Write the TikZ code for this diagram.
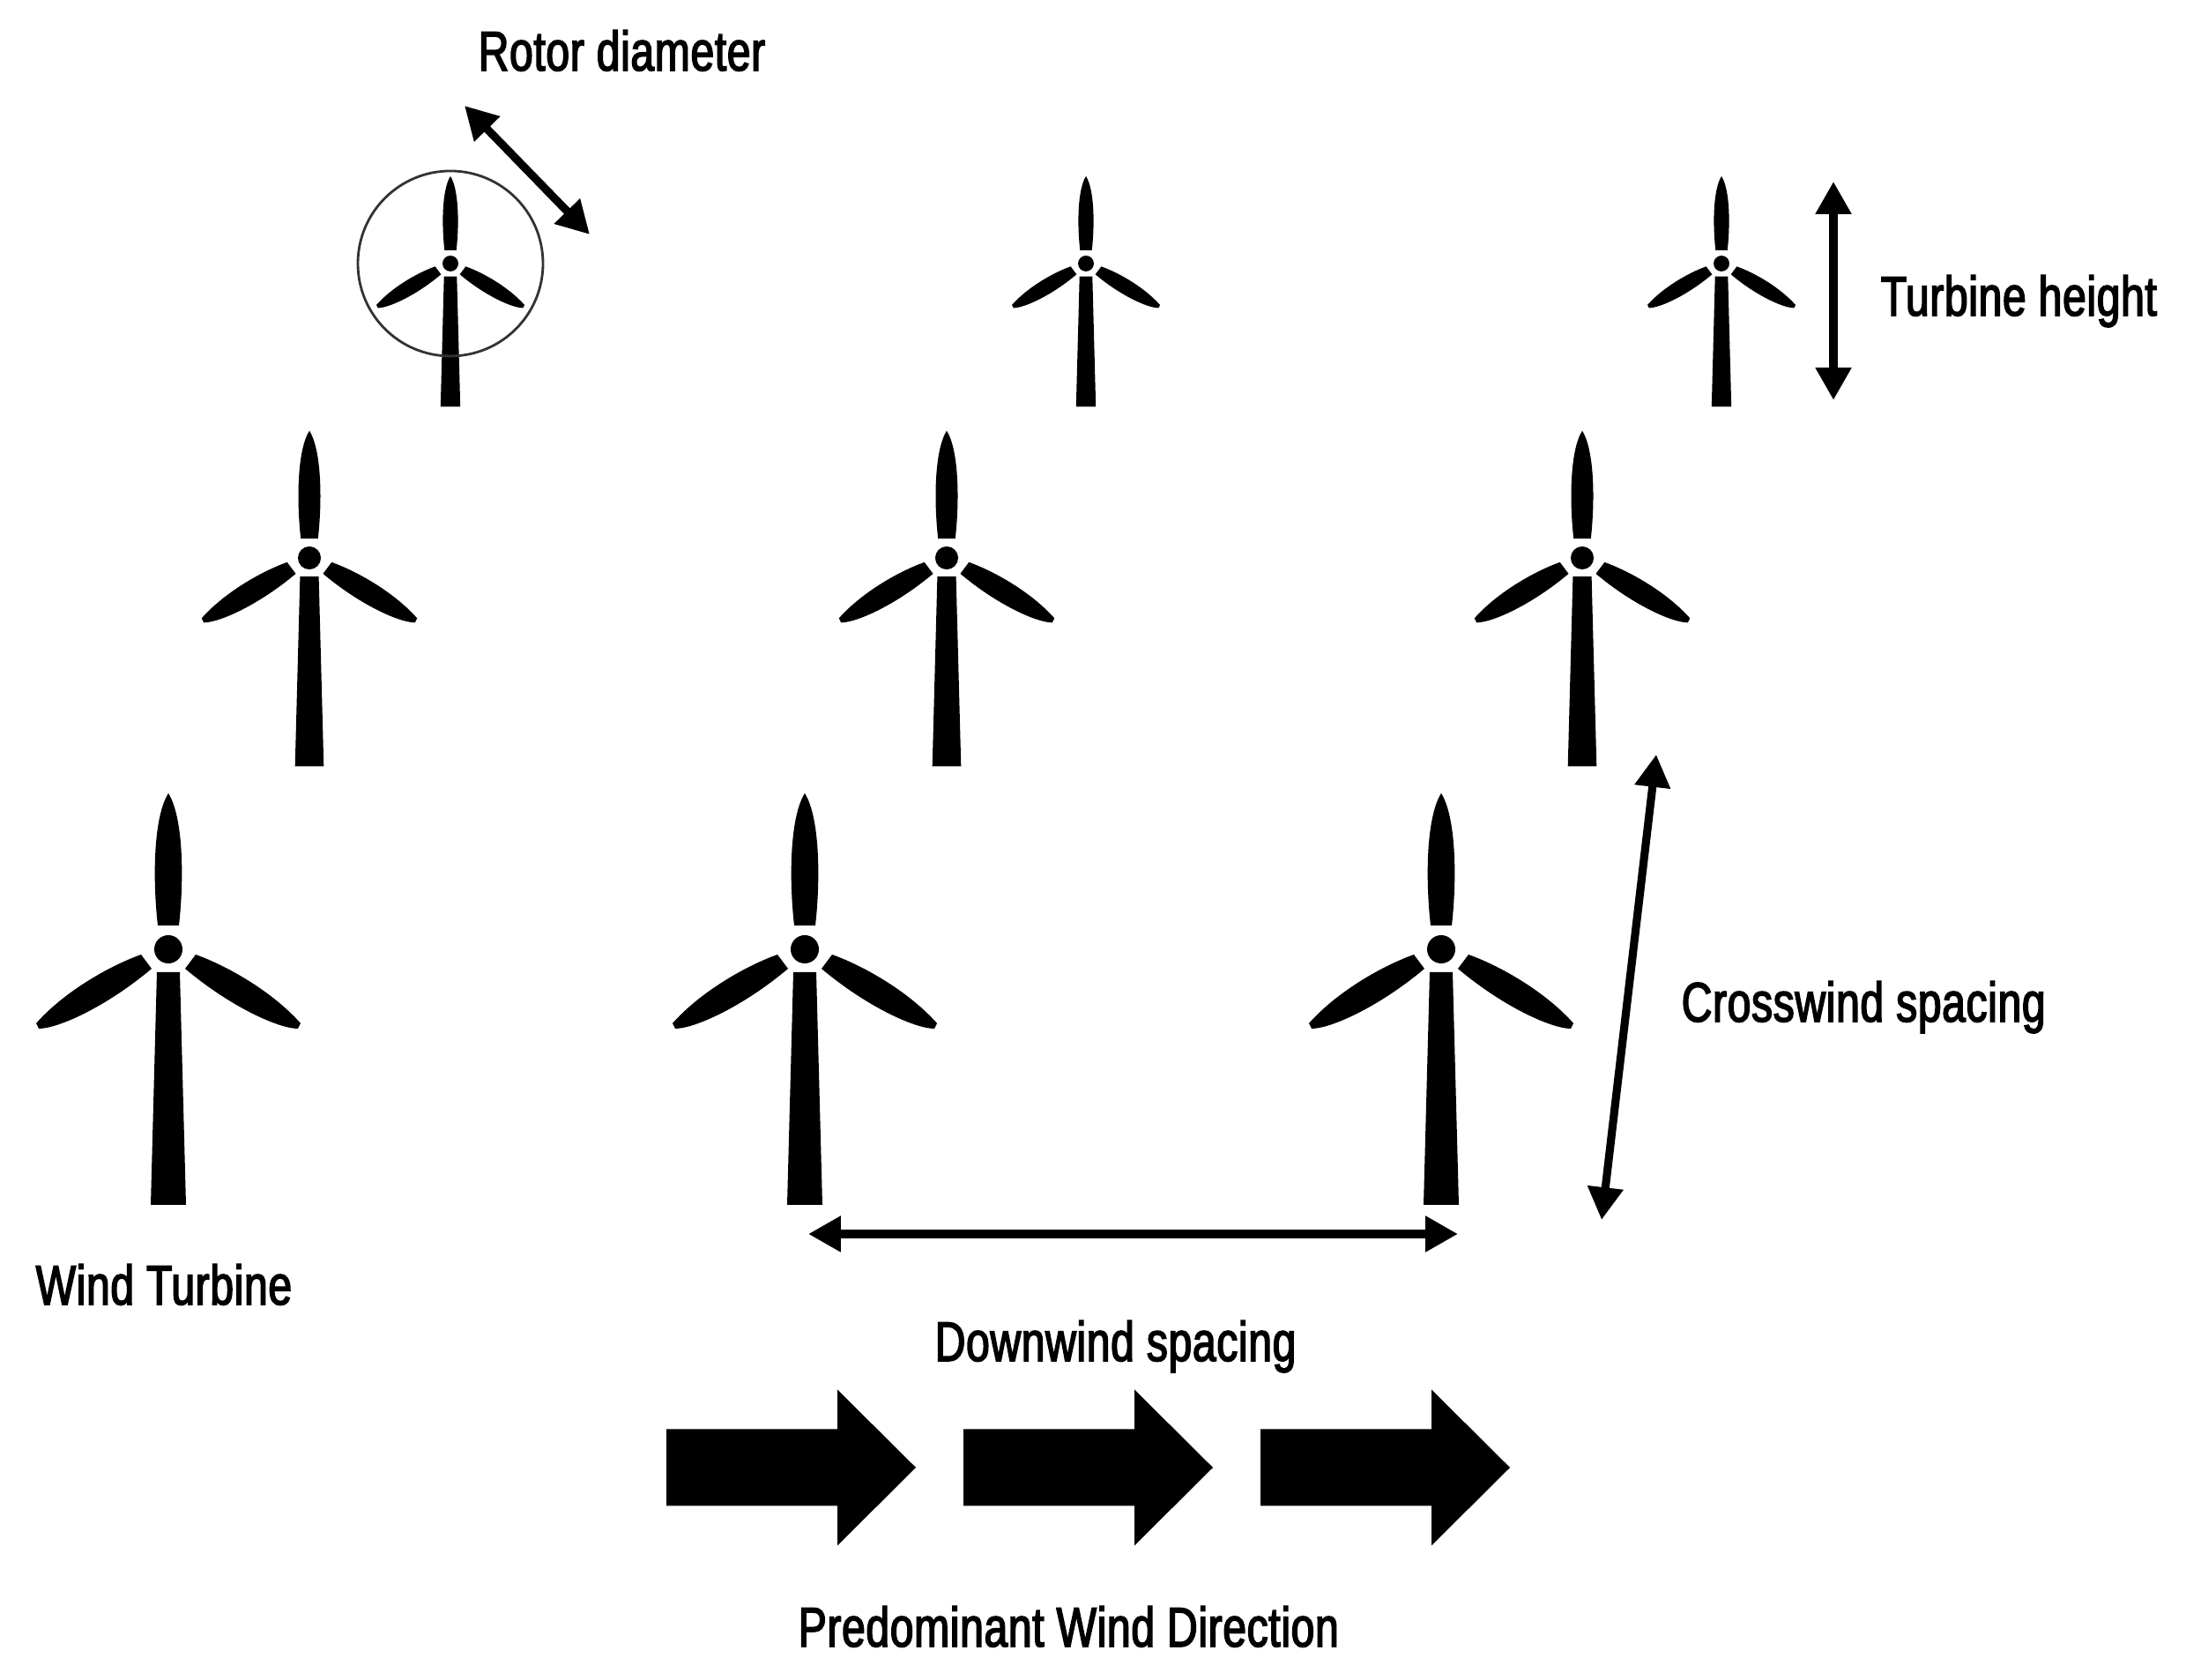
\documentclass[tikz,border=0pt]{standalone}
\usepackage{fontspec}
\setmainfont[FakeStretch=0.76,FakeBold=2.5,LetterSpace=1.0]{Liberation Sans}
\usetikzlibrary{arrows.meta}

\tikzset{
    label/.style={anchor=base west,inner sep=0pt,font=\fontsize{18}{20}\selectfont},
    dimarrow/.style={line width=2.6pt,{Triangle[length=10.5pt,width=11pt]}-{Triangle[length=10.5pt,width=11pt]}}
}

\newcommand{\turbine}[3]{
    \begin{scope}[shift={(#1,#2)},scale=#3]
        \fill (0,0) circle (0.16);
        \fill (-0.12,0.27) .. controls (-0.18,0.8) and (-0.17,1.5) .. (0,1.77)
            .. controls (0.17,1.5) and (0.18,0.8) .. (0.12,0.27) -- cycle;
        \fill (-0.13,-0.26) -- (0.13,-0.26) -- (0.2,-2.9) -- (-0.2,-2.9) -- cycle;
        \foreach \side in {-1,1}
            \fill[xscale=\side] (0.31,-0.06) .. controls (0.7,-0.2) and (1.2,-0.5) .. (1.5,-0.84)
                -- (1.47,-0.9) .. controls (1.25,-0.9) and (0.7,-0.65) .. (0.19,-0.22) -- cycle;
    \end{scope}
}

\begin{document}
\begin{tikzpicture}
    \useasboundingbox (0,0) rectangle (24.8,19.06);

    % Front row
    \foreach \x in {1.91,9.13,16.35}
        \turbine{\x}{8.29}{1};

    % Middle row
    \foreach \x in {3.51,10.74,17.95}
        \turbine{\x}{12.73}{0.815};

    % Back row
    \foreach \x in {5.11,12.32,19.53}
        \turbine{\x}{16.07}{0.56};

    % Rotor circle
    \coordinate (rotor) at (5.11,16.07);
    \draw[line width=0.8pt,black!80] (rotor) circle (1.05);

    % Dimension arrows
    \coordinate (rotorA) at (5.27,17.86);
    \coordinate (rotorB) at (6.69,16.40);
    \coordinate (heightA) at (20.80,17.0);
    \coordinate (heightB) at (20.80,14.52);
    \coordinate (downA) at (9.17,5.06);
    \coordinate (downB) at (16.54,5.06);
    \coordinate (crossA) at (18.79,10.50);
    \coordinate (crossB) at (18.17,5.22);
    \draw[dimarrow] (rotorA) -- (rotorB);
    \draw[dimarrow] (heightA) -- (heightB);
    \draw[dimarrow] (downA) -- (downB);
    \draw[dimarrow] (crossA) -- (crossB);

    % Wind arrows
    \foreach \x in {7.56,10.93,14.30}
        \fill (\x,1.975) -- ++(1.94,0) -- ++(0,-0.45) -- (\x+2.83,2.41)
            -- (\x+1.94,3.295) -- ++(0,-0.45) -- (\x,2.845) -- cycle;

    % Labels
    \node[label] (rotorlabel) at (5.42,18.26) {Rotor diameter};
    \node[label] (heightlabel) at (21.33,15.48) {Turbine height};
    \node[label] (crosslabel) at (19.07,7.47) {Crosswind spacing};
    \node[label] (turbinelabel) at (0.40,4.26) {Wind Turbine};
    \node[label] (downlabel) at (10.60,3.62) {Downwind spacing};
    \node[label] (windlabel) at (9.05,0.38) {Predominant Wind Direction};
\end{tikzpicture}
\end{document}
